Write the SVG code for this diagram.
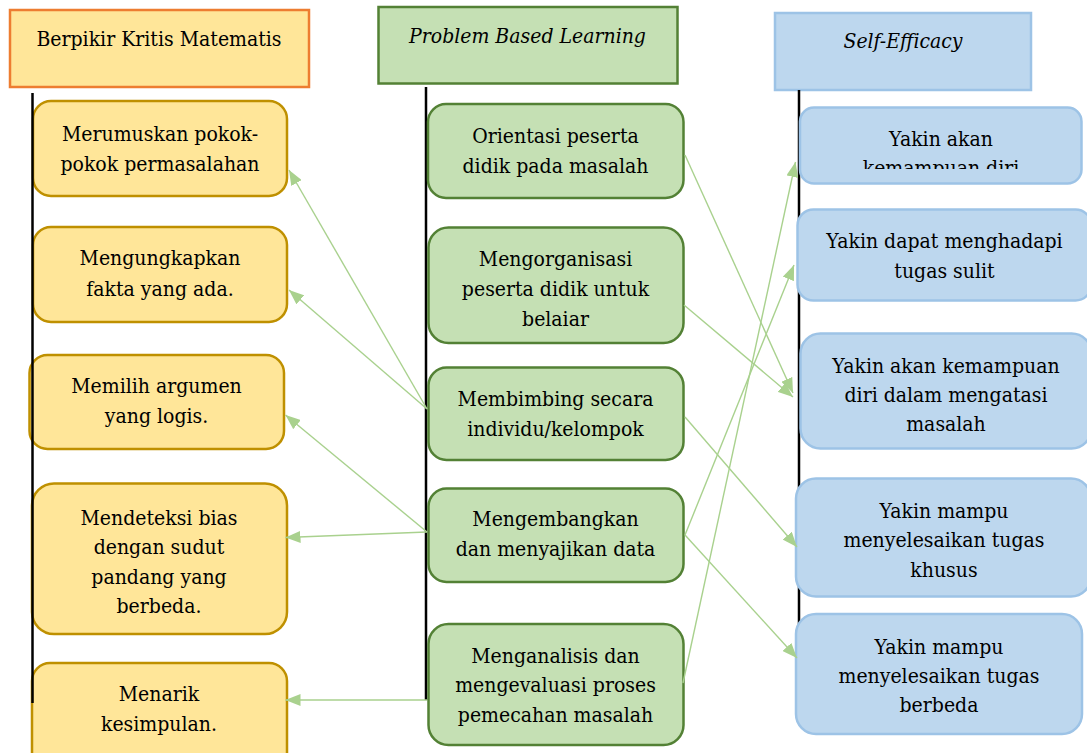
<svg xmlns="http://www.w3.org/2000/svg" width="1087" height="753" viewBox="0 0 1087 753">
<style>
text{font-family:'DejaVu Serif',serif;font-stretch:condensed;font-size:21px;fill:#000;text-anchor:middle}
.it{font-style:italic}
.y{fill:#FFE699;stroke:#BF9000;stroke-width:2.5}
.g{fill:#C5E0B4;stroke:#538135;stroke-width:2.5}
.b{fill:#BDD7EE;stroke:#9DC3E6;stroke-width:2.5}
.spine{stroke:#000;stroke-width:2.5;fill:none}
.c{stroke:#A9D18E;stroke-width:1.4;fill:none;marker-end:url(#ah)}
</style>
<defs>
<marker id="ah" markerUnits="userSpaceOnUse" markerWidth="15" markerHeight="12" refX="15" refY="6" orient="auto">
<path d="M0,0 L15,6 L0,12 z" fill="#A9D18E"/>
</marker>
<clipPath id="clipB1"><rect x="800" y="107" width="285" height="62"/></clipPath>
</defs>
<rect width="1087" height="753" fill="#fff"/>

<!-- headers -->
<g id="h-bkm">
<rect x="10" y="10" width="299" height="77" fill="#FFE699" stroke="#ED7D31" stroke-width="2.5"/>
<text x="159" y="46">Berpikir Kritis Matematis</text>
</g>
<g id="h-pbl">
<rect x="378.5" y="7" width="299" height="76.5" fill="#C5E0B4" stroke="#538135" stroke-width="2.5"/>
<text class="it" x="527.5" y="43">Problem Based Learning</text>
</g>
<g id="h-se">
<rect x="775" y="13" width="256" height="77" fill="#BDD7EE" stroke="#9DC3E6" stroke-width="2.5"/>
<text class="it" x="903" y="48">Self-Efficacy</text>
</g>

<!-- spines behind middle/right boxes -->
<g id="spines-back">
<line class="spine" x1="426" y1="87" x2="426" y2="700"/>
<line class="spine" x1="799" y1="90" x2="799" y2="625"/>
</g>

<!-- left column -->
<g id="k1"><rect class="y" x="33" y="101" width="254" height="95" rx="18"/>
<text x="160" y="141">Merumuskan pokok-</text><text x="160" y="171">pokok permasalahan</text></g>
<g id="k2"><rect class="y" x="33" y="227" width="254" height="95" rx="18"/>
<text x="160" y="265">Mengungkapkan</text><text x="160" y="295.5">fakta yang ada.</text></g>
<g id="k3"><rect class="y" x="29.5" y="355" width="254.5" height="94" rx="18"/>
<text x="156.5" y="393">Memilih argumen</text><text x="156.5" y="423">yang logis.</text></g>
<g id="k4"><rect class="y" x="32" y="483.5" width="255" height="150.5" rx="22"/>
<text x="159" y="525">Mendeteksi bias</text><text x="159" y="554">dengan sudut</text><text x="159" y="583.5">pandang yang</text><text x="159" y="613">berbeda.</text></g>
<g id="k5"><rect class="y" x="32" y="663" width="255" height="110" rx="18"/>
<text x="159" y="701">Menarik</text><text x="159" y="731">kesimpulan.</text></g>

<!-- left spine on top -->
<g id="spine-left">
<line class="spine" x1="32.5" y1="93" x2="32.5" y2="703"/>
</g>

<!-- middle column -->
<g id="p1"><rect class="g" x="428" y="104" width="255.5" height="94" rx="18"/>
<text x="555.5" y="143">Orientasi peserta</text><text x="555.5" y="173">didik pada masalah</text></g>
<g id="p2"><rect class="g" x="428.5" y="227.5" width="255" height="115.5" rx="20"/>
<text x="555.5" y="266">Mengorganisasi</text><text x="555.5" y="296">peserta didik untuk</text><text x="555.5" y="326">belaiar</text></g>
<g id="p3"><rect class="g" x="428.5" y="367.5" width="255" height="92.5" rx="18"/>
<text x="555.5" y="406">Membimbing secara</text><text x="555.5" y="436">individu/kelompok</text></g>
<g id="p4"><rect class="g" x="428.5" y="488.5" width="255" height="93.5" rx="18"/>
<text x="555.5" y="526">Mengembangkan</text><text x="555.5" y="556">dan menyajikan data</text></g>
<g id="p5"><rect class="g" x="428.5" y="624" width="255" height="121" rx="20"/>
<text x="555.5" y="663">Menganalisis dan</text><text x="555.5" y="692">mengevaluasi proses</text><text x="555.5" y="722">pemecahan masalah</text></g>

<!-- right column -->
<g id="s1"><rect class="b" x="800" y="107.5" width="281.5" height="76" rx="14"/>
<text x="941" y="146">Yakin akan</text>
<g clip-path="url(#clipB1)"><text x="941" y="175">kemampuan diri</text></g></g>
<g id="s2"><rect class="b" x="797.5" y="209.5" width="294" height="91" rx="16"/>
<text x="944.5" y="247.5">Yakin dapat menghadapi</text><text x="944.5" y="277.5">tugas sulit</text></g>
<g id="s3"><rect class="b" x="800.5" y="333.5" width="291" height="115" rx="20"/>
<text x="946" y="372.5">Yakin akan kemampuan</text><text x="946" y="402">diri dalam mengatasi</text><text x="946" y="431">masalah</text></g>
<g id="s4"><rect class="b" x="796" y="478.5" width="295" height="118" rx="20"/>
<text x="944" y="517.5">Yakin mampu</text><text x="944" y="547">menyelesaikan tugas</text><text x="944" y="577">khusus</text></g>
<g id="s5"><rect class="b" x="796" y="614" width="286" height="120" rx="20"/>
<text x="939" y="654">Yakin mampu</text><text x="939" y="683">menyelesaikan tugas</text><text x="939" y="712">berbeda</text></g>

<!-- connectors -->
<g id="connectors">
<line class="c" x1="427" y1="409" x2="289" y2="170"/>
<line class="c" x1="427" y1="409" x2="289" y2="290"/>
<line class="c" x1="427" y1="532" x2="285.5" y2="415"/>
<line class="c" x1="427" y1="532" x2="285.5" y2="537.5"/>
<line class="c" x1="427" y1="700" x2="285.5" y2="700"/>
<line class="c" x1="685" y1="155" x2="793" y2="393"/>
<line class="c" x1="684" y1="305" x2="793" y2="397"/>
<line class="c" x1="685" y1="417" x2="797" y2="547"/>
<line class="c" x1="685" y1="535" x2="797" y2="658"/>
<line class="c" x1="685" y1="535" x2="794" y2="265"/>
<line class="c" x1="683" y1="683" x2="795.5" y2="162"/>
</g>
</svg>
